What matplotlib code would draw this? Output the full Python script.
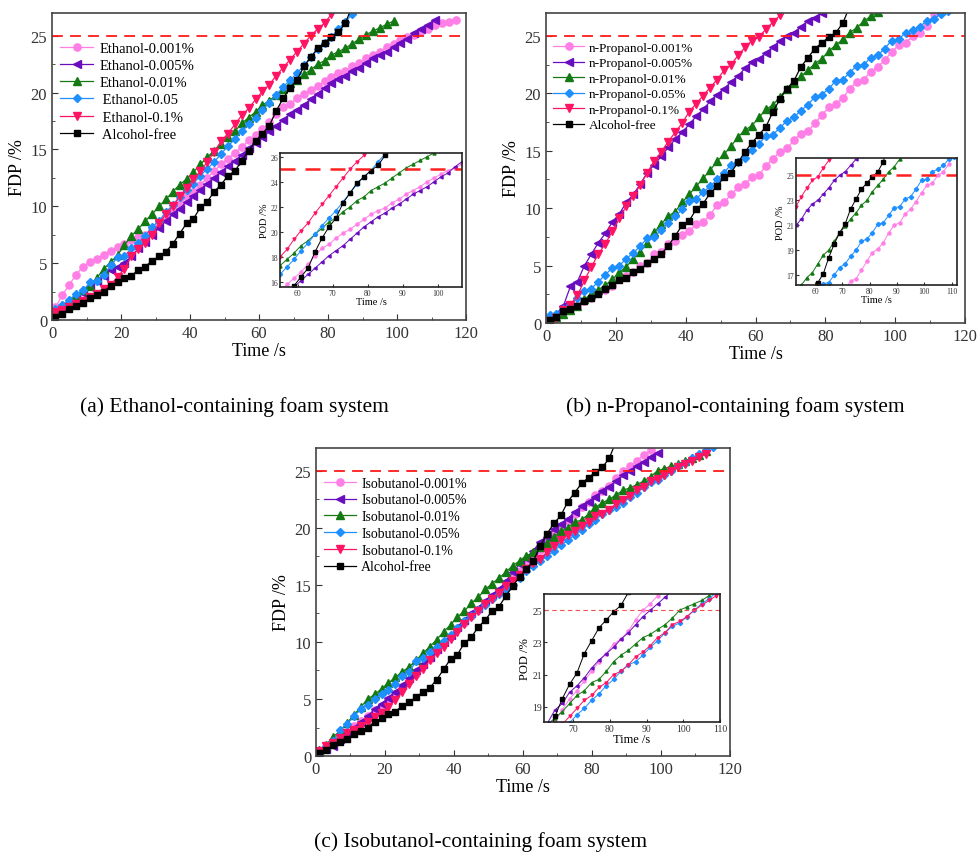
import matplotlib
matplotlib.use('Agg')
import matplotlib.pyplot as plt
from matplotlib.ticker import MultipleLocator

plt.rcParams['font.family'] = ['Liberation Serif', 'DejaVu Serif']
plt.rcParams['mathtext.fontset'] = 'stix'

# sampling times (s), one point every 2 s
time = [1, 3, 5, 7, 9, 11, 13, 15, 17, 19, 21, 23, 25, 27, 29, 31, 33, 35, 37, 39,
        41, 43, 45, 47, 49, 51, 53, 55, 57, 59, 61, 63, 65, 67, 69, 71, 73, 75, 77, 79,
        81, 83, 85, 87, 89, 91, 93, 95, 97, 99, 101, 103, 105, 107, 109, 111, 113, 115, 117]

# alcohol-free reference (same in all three panels)
free = [0.3, 0.5, 1.0, 1.2, 1.5, 1.9, 2.2, 2.5, 3.0, 3.3, 3.7, 3.9, 4.4, 4.7, 5.2, 5.6,
        6.0, 6.7, 7.6, 8.5, 8.9, 9.9, 10.4, 11.3, 11.9, 12.7, 13.1, 14.0, 14.9, 15.7,
        16.4, 17.1, 18.4, 19.5, 20.4, 21.1, 22.3, 23.1, 23.9, 24.4, 24.9, 25.3, 26.1, 27.6]

# (a) ethanol
eth_0001 = [1.1, 2.2, 3.1, 4.0, 4.7, 5.1, 5.4, 5.7, 6.1, 6.4, 6.7, 7.0, 7.3, 7.5, 8.0, 8.5,
            9.1, 9.6, 10.2, 10.8, 11.3, 11.9, 12.5, 13.1, 13.7, 14.2, 14.7, 15.2, 15.8, 16.3,
            16.8, 17.4, 18.1, 18.7, 19.0, 19.5, 19.9, 20.2, 20.6, 21.0, 21.4, 21.7, 21.9,
            22.3, 22.6, 23.0, 23.3, 23.6, 24.0, 24.3, 24.6, 24.9, 25.1, 25.4, 25.6, 25.9,
            26.1, 26.2, 26.4]
eth_0005 = [0.9, 1.2, 1.5, 1.9, 2.4, 2.9, 3.4, 3.9, 4.4, 4.7, 5.0, 5.6, 6.3, 6.9, 7.5, 8.1,
            8.7, 9.3, 9.8, 10.4, 10.9, 11.4, 12.0, 12.5, 13.0, 13.5, 14.0, 14.5, 15.1, 15.6,
            16.1, 16.6, 17.1, 17.6, 18.1, 18.5, 18.9, 19.4, 19.9, 20.4, 20.8, 21.2, 21.5,
            21.9, 22.2, 22.6, 23.0, 23.3, 23.6, 24.0, 24.4, 24.7, 25.2, 25.6, 25.9, 26.4]
eth_001 = [0.9, 1.3, 1.7, 2.1, 2.6, 3.0, 3.7, 4.5, 5.1, 5.7, 6.6, 7.4, 8.0, 8.7, 9.3, 10.0,
           10.6, 11.3, 11.9, 12.4, 13.0, 13.7, 14.3, 14.9, 15.5, 16.1, 16.6, 17.3, 17.8,
           18.3, 18.9, 19.3, 19.8, 20.3, 20.8, 21.1, 21.6, 22.0, 22.5, 22.8, 23.3, 23.6,
           23.9, 24.3, 24.7, 25.1, 25.4, 25.7, 26.0, 26.3]
eth_005 = [0.95, 1.3, 1.8, 2.3, 2.6, 3.3, 3.4, 4.0, 4.8, 5.5, 5.6, 6.3, 6.8, 7.4, 8.2, 8.7,
           9.5, 10.1, 10.8, 11.4, 12.0, 12.7, 13.3, 13.9, 14.6, 15.3, 15.9, 16.6, 17.2,
           17.8, 18.5, 19.1, 19.8, 20.5, 21.1, 21.7, 22.4, 23.1, 23.8, 24.4, 24.9, 25.6,
           26.2, 26.9]
eth_01 = [0.7, 0.9, 1.1, 1.4, 1.7, 2.0, 2.3, 2.7, 3.1, 3.8, 4.5, 5.6, 6.2, 6.8, 7.5, 8.5,
          9.3, 10.0, 10.9, 11.6, 12.4, 13.1, 13.9, 14.8, 15.7, 16.4, 17.2, 18.0, 18.6, 19.4,
          20.1, 20.7, 21.5, 22.2, 22.9, 23.6, 24.3, 25.0, 25.6, 26.1, 26.9]

# (b) n-propanol
pro_0001 = [0.3, 0.6, 0.9, 1.2, 1.5, 1.9, 2.2, 2.6, 2.9, 3.2, 3.9, 4.1, 4.4, 5.0, 5.2, 6.0,
            6.2, 6.9, 7.1, 7.7, 8.0, 8.6, 8.8, 9.4, 10.3, 10.5, 11.2, 11.8, 12.1, 12.7, 12.9,
            13.7, 14.3, 14.9, 15.2, 15.9, 16.5, 16.7, 17.4, 18.1, 18.8, 19.1, 19.6, 20.4,
            21.0, 21.2, 21.9, 22.3, 22.9, 23.6, 24.2, 24.4, 25.0, 25.3, 25.9, 26.9]
pro_0005 = [0.5, 0.8, 1.5, 3.2, 3.6, 5.0, 6.0, 7.0, 7.8, 8.8, 9.5, 10.5, 11.2, 12.1, 13.1,
            13.8, 14.5, 15.3, 16.0, 16.6, 17.3, 18.0, 18.6, 19.3, 19.9, 20.4, 21.0, 21.5,
            22.2, 22.7, 23.0, 23.5, 24.0, 24.6, 25.0, 25.3, 25.8, 26.3, 26.6, 27.0]
pro_001 = [0.2, 0.5, 0.8, 1.1, 1.5, 2.1, 2.5, 2.9, 3.3, 3.8, 4.4, 4.9, 5.6, 6.2, 7.0, 7.9,
           8.6, 9.3, 9.7, 10.5, 11.2, 11.9, 12.6, 13.3, 14.1, 14.7, 15.4, 16.2, 16.8, 17.2,
           17.9, 18.6, 19.0, 19.7, 20.4, 20.9, 21.5, 22.0, 22.6, 23.0, 23.7, 24.2, 24.7,
           25.3, 25.7, 26.3, 26.7, 27.1]
pro_005 = [0.7, 0.8, 1.2, 1.6, 2.2, 2.8, 3.0, 3.6, 4.2, 4.8, 5.0, 5.6, 6.1, 6.7, 7.4, 7.5,
           8.1, 8.7, 9.3, 9.9, 10.6, 10.8, 11.4, 11.9, 12.5, 13.1, 13.8, 14.0, 14.4, 15.1,
           15.6, 16.3, 16.4, 17.0, 17.6, 17.9, 18.5, 19.0, 19.7, 19.9, 20.4, 21.1, 21.2,
           21.8, 22.4, 22.5, 23.1, 23.3, 23.9, 24.6, 24.7, 25.3, 25.5, 25.8, 26.3, 26.5,
           26.9, 27.2]
pro_01 = [0.2, 0.4, 1.1, 1.6, 2.4, 3.7, 4.9, 6.0, 6.9, 8.0, 9.1, 10.2, 11.1, 12.0, 13.1,
          14.1, 14.9, 15.8, 16.6, 17.4, 18.4, 19.1, 19.8, 20.5, 21.2, 22.0, 22.5, 23.3, 24.0,
          24.6, 24.9, 25.6, 26.2, 26.8]

# (c) isobutanol
iso_0001 = [0.4, 0.7, 1.1, 1.6, 2.1, 2.6, 3.1, 3.5, 4.0, 4.4, 4.9, 5.4, 6.0, 6.6, 7.2, 7.9,
            8.5, 9.2, 9.9, 10.5, 11.1, 11.7, 12.3, 12.8, 13.4, 13.9, 14.4, 15.0, 15.6, 16.2,
            16.8, 17.5, 18.1, 18.8, 19.5, 20.0, 20.6, 21.2, 21.8, 22.3, 22.9, 23.2, 23.7,
            24.4, 25.0, 25.4, 25.9, 26.4, 26.8]
iso_0005 = [0.3, 0.6, 0.9, 1.5, 2.0, 2.5, 3.0, 3.5, 4.1, 4.6, 5.1, 5.6, 6.2, 6.8, 7.5, 8.1,
            8.7, 9.4, 10.0, 10.6, 11.3, 11.9, 12.5, 13.0, 13.6, 14.1, 14.6, 15.3, 16.1, 16.8,
            17.4, 18.0, 18.8, 19.2, 19.9, 20.3, 20.8, 21.4, 21.9, 22.3, 22.7, 23.2, 23.6,
            24.1, 24.6, 25.0, 25.4, 25.8, 26.2, 26.6]
iso_001 = [0.5, 1.0, 1.7, 2.2, 2.9, 3.6, 4.3, 5.0, 5.4, 5.9, 6.4, 6.9, 7.4, 7.8, 8.4, 9.0,
           9.6, 10.2, 10.9, 11.5, 12.2, 12.7, 13.4, 13.9, 14.6, 15.1, 15.6, 16.1, 16.7, 17.1,
           17.5, 17.9, 18.3, 18.7, 19.2, 19.7, 20.0, 20.5, 20.7, 21.2, 21.8, 22.2, 22.5,
           22.9, 23.3, 23.5, 23.8, 24.1, 24.5, 25.0, 25.2, 25.4, 25.6, 25.9, 26.1, 26.4, 26.7]
iso_005 = [0.3, 0.9, 1.3, 2.3, 2.8, 3.5, 4.1, 4.5, 5.0, 5.4, 5.8, 6.3, 7.0, 7.4, 8.3, 8.6,
           9.1, 9.6, 10.1, 10.6, 11.2, 11.8, 12.3, 12.8, 13.2, 13.8, 14.2, 14.6, 15.0, 15.6,
           16.2, 16.7, 17.1, 17.5, 18.0, 18.5, 18.9, 19.4, 19.8, 20.3, 20.7, 21.2, 21.6,
           21.8, 22.2, 22.7, 23.1, 23.6, 24.0, 24.2, 24.6, 25.0, 25.4, 25.7, 26.1, 26.5,
           26.8, 27.1]
iso_01 = [0.4, 0.9, 1.1, 1.6, 2.0, 2.3, 2.6, 3.0, 3.4, 3.8, 4.3, 4.9, 5.6, 6.3, 7.0, 7.6,
          8.4, 9.0, 9.6, 10.3, 10.9, 11.6, 12.2, 12.7, 13.3, 13.8, 14.3, 14.9, 15.3, 15.9,
          16.4, 16.9, 17.3, 17.9, 18.4, 18.9, 19.4, 19.7, 20.2, 20.5, 21.0, 21.2, 21.6, 22.1,
          22.4, 22.8, 23.3, 23.6, 24.1, 24.3, 24.6, 25.0, 25.3, 25.6, 25.9, 26.2, 26.5]

suffix = ['-0.001%', '-0.005%', '-0.01%', '-0.05%', '-0.1%']
colors = ['#FF7FE6', '#6A0DBE', '#137A13', '#1E8FFF', '#FF1464', 'black']
markers = ['o', '<', '^', 'D', 'v', 's']
msizes = [5.2, 5.2, 5.2, 4.4, 5.2, 4.6]

fig = plt.figure(figsize=(9.78, 8.53), dpi=100)


def draw_main(pos, series, labels, leg_fs, leg_anchor, leg_space):
    ax = fig.add_axes(pos)
    for i, y in enumerate(series):
        ax.plot(time[:len(y)], y, marker=markers[i], color=colors[i], ms=msizes[i],
                lw=0.9, mec=colors[i], label=labels[i])
    ax.axhline(25, color='#FF1A1A', ls=(0, (6, 4)), lw=1.3)
    ax.set_xlim(0, 120)
    ax.set_ylim(0, 27)
    ax.xaxis.set_major_locator(MultipleLocator(20))
    ax.xaxis.set_minor_locator(MultipleLocator(10))
    ax.yaxis.set_major_locator(MultipleLocator(5))
    ax.yaxis.set_minor_locator(MultipleLocator(2.5))
    ax.tick_params(which='both', direction='in', labelsize=12, colors='#333333')
    ax.tick_params(which='major', length=4)
    ax.tick_params(which='minor', length=2.5)
    for s in ax.spines.values():
        s.set_color('#444444')
        s.set_linewidth(1.2)
    ax.set_xlabel('Time /s', fontsize=13, labelpad=1)
    ax.set_ylabel('FDP /%', fontsize=13, labelpad=3)
    ax.legend(loc='upper left', bbox_to_anchor=leg_anchor, frameon=False,
              fontsize=leg_fs, handlelength=2.3, handletextpad=0.4,
              labelspacing=leg_space, borderaxespad=0)
    return ax


def draw_inset(pos, series, xlim, ylim, xt, yt, fs, dash_lw, dash_col):
    ax = fig.add_axes(pos)
    for i, y in enumerate(series):
        ax.plot(time[:len(y)], y, marker=markers[i], color=colors[i], ms=2.2,
                lw=0.7, mec=colors[i])
    ax.axhline(25, color=dash_col, ls=(0, (6, 4)) if dash_lw > 1 else (0, (4, 3)),
               lw=dash_lw)
    ax.set_xlim(*xlim)
    ax.set_ylim(*ylim)
    ax.set_xticks(xt)
    ax.set_yticks(yt)
    ax.tick_params(direction='in', labelsize=fs, length=2, pad=1.5, colors='#333333')
    for s in ax.spines.values():
        s.set_color('#222222')
        s.set_linewidth(1.2)
    ax.set_xlabel('Time /s', fontsize=fs + 2, labelpad=0)
    ax.set_ylabel('POD /%', fontsize=fs + 2, labelpad=1)
    return ax


# ---------------- (a) ethanol ----------------
ser_a = [eth_0001, eth_0005, eth_001, eth_005, eth_01, free]
lab_a = ['Ethanol-0.001%', 'Ethanol-0.005%', 'Ethanol-0.01%', ' Ethanol-0.05',
         ' Ethanol-0.1%', ' Alcohol-free']
draw_main([0.0532, 0.6237, 0.4233, 0.3599], ser_a, lab_a, 10.5, (0.005, 0.925), 0.27)
draw_inset([0.2863, 0.6624, 0.1861, 0.1571], ser_a, (55, 107), (15.6, 26.3),
           [60, 70, 80, 90, 100], [16, 18, 20, 22, 24, 26], 5.5, 1.8, '#FF2020')

# ---------------- (b) n-propanol ----------------
ser_b = [pro_0001, pro_0005, pro_001, pro_005, pro_01, free]
lab_b = ['n-Propanol' + s for s in suffix] + ['Alcohol-free']
draw_main([0.5583, 0.6202, 0.4284, 0.3634], ser_b, lab_b, 9.5, (0.005, 0.925), 0.25)
draw_inset([0.8139, 0.6647, 0.1646, 0.1489], ser_b, (53, 112), (16.2, 26.4),
           [60, 70, 80, 90, 100, 110], [17, 19, 21, 23, 25], 5.5, 1.8, '#FF2020')

# ---------------- (c) isobutanol ----------------
ser_c = [iso_0001, iso_0005, iso_001, iso_005, iso_01, free]
lab_c = ['Isobutanol' + s for s in suffix] + ['Alcohol-free']
draw_main([0.3231, 0.1125, 0.4233, 0.3611], ser_c, lab_c, 10, (0.005, 0.925), 0.27)
draw_inset([0.5562, 0.1524, 0.18, 0.15], ser_c, (62, 110), (18.05, 26),
           [70, 80, 90, 100, 110], [19, 21, 23, 25], 7, 0.8, '#F05050')

# captions
fig.text(0.240, 0.523, '(a) Ethanol-containing foam system', ha='center', va='center', fontsize=15.5)
fig.text(0.752, 0.523, '(b) n-Propanol-containing foam system', ha='center', va='center', fontsize=15.5)
fig.text(0.491, 0.013, '(c) Isobutanol-containing foam system', ha='center', va='center', fontsize=15.5)

fig.savefig('out.png', dpi=100)
